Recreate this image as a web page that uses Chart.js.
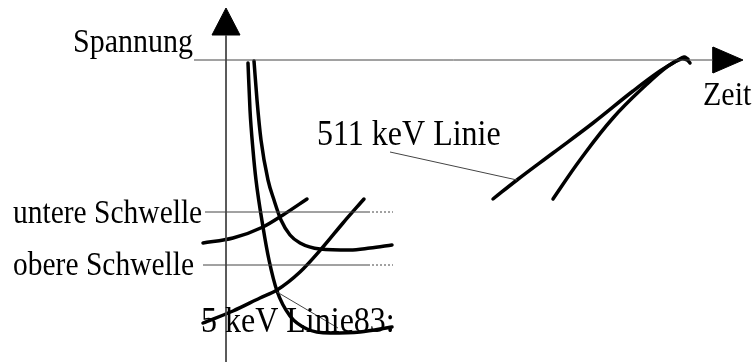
<!DOCTYPE html>
<html>
<head>
<meta charset="utf-8">
<script src="https://cdn.jsdelivr.net/npm/chart.js"></script>
<style>
  body { margin: 0; background: #fff; }
  #box { width: 753px; height: 362px; }
</style>
</head>
<body>
<div id="box"><canvas id="schema"></canvas></div>
<script>
// Kurven der Impulse (x = Zeit, y = Spannung, Bildeinheiten, y nach unten)
const kurve835a = [[248,63],[250,110],[253,150],[256,180],[263,227],[269,260],[277,291],[290,316],[307,329],[330,333],[360,332],[392,327]];
const kurve835b = [[254,61],[257,100],[261,140],[268,180],[274,200],[281,220],[290,235],[300,243],[320,249],[350,250],[370,248],[392,245]];
const kurveUnten = [[203,243],[233,238],[263,227],[283,215],[307,199]];
const kurveLang = [[203,323],[233,311],[260,298],[277,290],[300,272],[323,247],[343,223],[364,199]];
const kurve511a = [[493,199],[517,180],[553,153],[593,123],[633,91],[660,71],[678,60],[684,57],[688,59]];
const kurve511b = [[553,199],[580,160],[613,118],[647,84],[668,66],[681,59],[687,60],[690,63]];

// Achsen, Schwellen und Hinweislinien
const achseY = [[226,35],[226,362]];
const achseX = [[194,60],[713,60]];
const pfeilY = [[226,8],[212,35],[240,35],[226,8]];
const pfeilX = [[743,60],[713,47],[713,73],[743,60]];
const schwelleUnten = [[205,212],[368,212]];
const schwelleUntenPunkt = [[368,212],[393,212]];
const schwelleOben = [[203,265],[368,265]];
const schwelleObenPunkt = [[368,265],[393,265]];
const hinweis511 = [[390,152],[517,180]];
const hinweis835 = [[277,292],[338,328]];

// Beschriftungen
const texte = ['Spannung', 'Zeit', '511 keV Linie', 'untere Schwelle', 'obere Schwelle', '5 keV Linie83:'];

const pkt = arr => arr.map(p => ({ x: p[0], y: p[1] }));

function kurve(arr, mono) {
  return {
    data: pkt(arr), borderColor: '#000', borderWidth: 3.5, tension: 0.4,
    cubicInterpolationMode: mono ? 'monotone' : 'default',
    borderCapStyle: 'round'
  };
}
function duenn(arr, dash) {
  return { data: pkt(arr), borderColor: '#444', borderWidth: 1, tension: 0, borderDash: dash || [] };
}
function pfeil(arr) {
  return { data: pkt(arr), borderColor: '#000', borderWidth: 1, tension: 0, fill: 'shape', backgroundColor: '#000' };
}

// Texte direkt auf die Zeichenfläche schreiben (Serifenschrift, leicht hochgezogen)
const beschriftung = {
  id: 'beschriftung',
  afterDraw(chart) {
    const c = chart.ctx;
    const sx = chart.scales.x, sy = chart.scales.y;
    const lagen = [
      { x: 73, y: 52, size: 30 },
      { x: 703, y: 105, size: 30 },
      { x: 317, y: 145, size: 32 },
      { x: 13, y: 223, size: 29.5 },
      { x: 13, y: 275, size: 29.5 },
      { x: 201, y: 332, size: 32, rechts: 393 }
    ];
    c.save();
    c.fillStyle = '#000';
    c.textBaseline = 'alphabetic';
    texte.forEach((t, i) => {
      const l = lagen[i];
      c.save();
      if (l.rechts) {
        c.beginPath();
        c.rect(0, 0, sx.getPixelForValue(l.rechts), chart.height);
        c.clip();
      }
      c.translate(sx.getPixelForValue(l.x), sy.getPixelForValue(l.y));
      c.scale(1, 1.12);
      c.font = l.size + 'px "Liberation Serif"';
      c.fillText(t, 0, 0);
      c.restore();
    });
    c.restore();
  }
};

new Chart(document.getElementById('schema'), {
  type: 'scatter',
  data: {
    datasets: [
      duenn(achseY), duenn(achseX),
      pfeil(pfeilY), pfeil(pfeilX),
      duenn(schwelleUnten), duenn(schwelleUntenPunkt, [2, 2]),
      duenn(schwelleOben), duenn(schwelleObenPunkt, [2, 2]),
      duenn(hinweis511), duenn(hinweis835),
      kurve(kurve835a, true), kurve(kurve835b, true), kurve(kurveUnten, true),
      kurve(kurveLang, true), kurve(kurve511a), kurve(kurve511b)
    ]
  },
  options: {
    responsive: true,
    maintainAspectRatio: false,
    animation: false,
    events: [],
    showLine: true,
    elements: { point: { radius: 0 } },
    layout: { padding: 0 },
    plugins: { legend: { display: false }, tooltip: { enabled: false } },
    scales: {
      x: { type: 'linear', display: false, min: 0, max: 753 },
      y: { type: 'linear', display: false, min: 0, max: 362, reverse: true }
    }
  },
  plugins: [beschriftung]
});
</script>
</body>
</html>
